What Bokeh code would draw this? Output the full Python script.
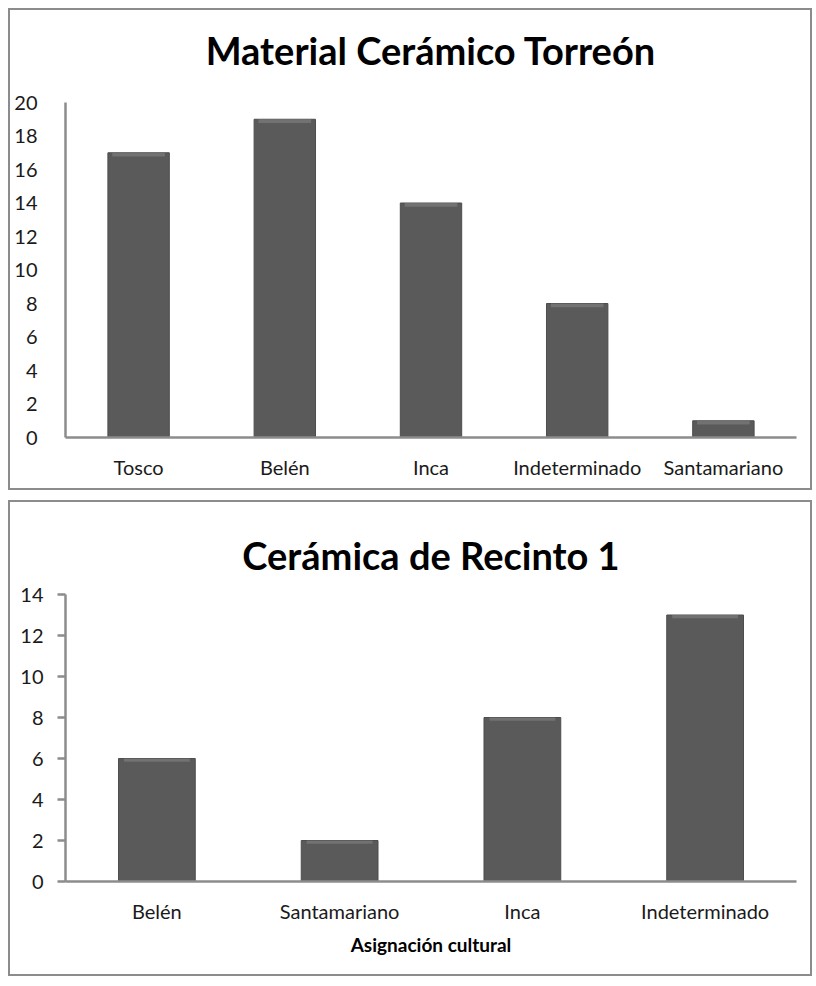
from bokeh.plotting import figure
from bokeh.layouts import column
from bokeh.models import Range1d, FixedTicker, Title
from bokeh.embed import file_html
from bokeh.resources import INLINE

# ---- data ----
cats_top = ["Tosco", "Belén", "Inca", "Indeterminado", "Santamariano"]
vals_top = [17, 19, 14, 8, 1]
title_top = "Material Cerámico Torreón"
yticks_top = [0, 2, 4, 6, 8, 10, 12, 14, 16, 18, 20]

cats_bot = ["Belén", "Santamariano", "Inca", "Indeterminado"]
vals_bot = [6, 2, 8, 13]
title_bot = "Cerámica de Recinto 1"
yticks_bot = [0, 2, 4, 6, 8, 10, 12, 14]
xlabel_bot = "Asignación cultural"

FONT = "Lato"
AXIS_COL = "#8c8c8c"
BAR_COL = "#5a5a5a"
HI_COL = "#7c7c7c"


def make(cats, vals, title, yticks, height, bottom_border, ticks, title_standoff,
         spacer=None, xlabel=None):
    p = figure(x_range=cats, y_range=Range1d(0, yticks[-1]), width=804, height=height,
               output_backend="svg", toolbar_location=None,
               min_border_left=55, min_border_right=18, min_border_top=92,
               min_border_bottom=bottom_border)
    p.vbar(x=cats, top=vals, width=0.42, fill_color=BAR_COL, line_color="#4d4d4d", line_width=1)
    p.vbar(x=cats, top=vals, bottom=[v - 0.22 * yticks[-1] / 20 for v in vals], width=0.36,
           fill_color=HI_COL, line_color=None, fill_alpha=0.7)
    p.xgrid.visible = False
    p.ygrid.visible = False
    p.outline_line_color = None
    p.background_fill_color = "white"
    p.border_fill_color = "white"
    p.styles = {"border": "2px solid #8c8c8c"}

    p.title = Title(text=title, align="center", vertical_align="top", text_font=FONT,
                    text_font_size="38px", text_font_style="bold", text_color="#000000",
                    standoff=title_standoff)
    if spacer is not None:
        p.add_layout(Title(text=" ", text_font_size="2px", standoff=spacer), "above")

    ya = p.yaxis[0]
    ya.ticker = FixedTicker(ticks=yticks)
    ya.axis_line_color = AXIS_COL
    ya.axis_line_width = 2.5
    ya.minor_tick_line_color = None
    ya.major_label_text_font = FONT
    ya.major_label_text_font_size = "20px"
    ya.major_label_text_color = "#1a1a1a"
    if ticks:
        ya.major_tick_line_color = AXIS_COL
        ya.major_tick_line_width = 2.5
        ya.major_tick_out = 8
        ya.major_tick_in = 0
        ya.major_label_standoff = 14
    else:
        ya.major_tick_line_color = None
        ya.major_label_standoff = 22

    xa = p.xaxis[0]
    xa.axis_line_color = AXIS_COL
    xa.axis_line_width = 2.5
    xa.major_tick_line_color = None
    xa.minor_tick_line_color = None
    xa.major_label_text_font = FONT
    xa.major_label_text_font_size = "20px"
    xa.major_label_text_color = "#1a1a1a"
    xa.major_label_standoff = 11
    if xlabel:
        xa.axis_label = xlabel
        xa.axis_label_text_font = FONT
        xa.axis_label_text_font_size = "19px"
        xa.axis_label_text_font_style = "bold"
        xa.axis_label_text_color = "#000000"
        xa.axis_label_standoff = 7
    return p


p1 = make(cats_top, vals_top, title_top, yticks_top, 482, 55, False, 30, spacer=9)
p2 = make(cats_bot, vals_bot, title_bot, yticks_bot, 476, 97, True, 30, xlabel=xlabel_bot)

layout = column(p1, p2, spacing=10, margin=(8, 0, 0, 8))
open("out.html", "w").write(file_html(layout, INLINE))
